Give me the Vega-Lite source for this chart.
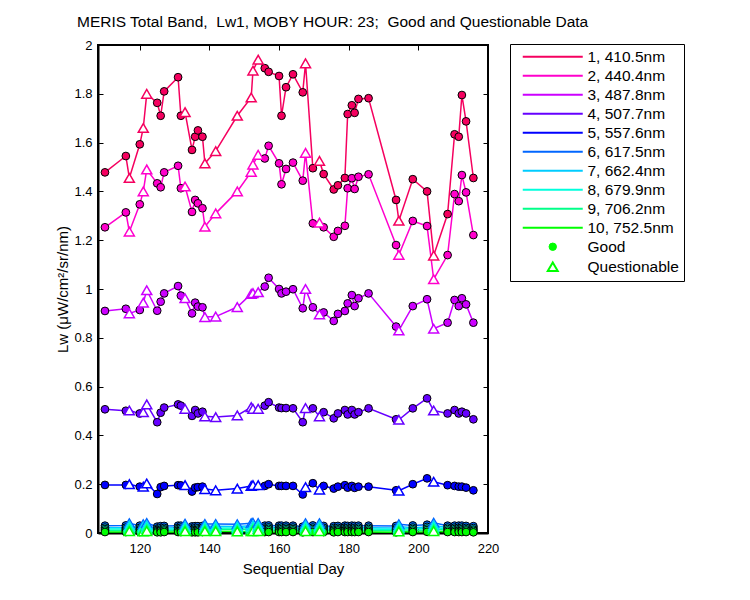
{
  "$schema": "https://vega.github.io/schema/vega-lite/v6.json",
  "width": 390,
  "height": 488,
  "autosize": {"type": "none"},
  "padding": {"left": 98, "top": 45, "right": 262, "bottom": 67},
  "background": "white",
  "title": {"text": "MERIS Total Band,\u00a0 Lw1, MOBY HOUR: 23;\u00a0 Good and Questionable Data", "anchor": "start", "frame": "group", "dx": -21, "offset": 9, "font": "Liberation Sans", "fontSize": 15.5, "fontWeight": "normal", "color": "black"},
  "config": {
    "view": {"stroke": "black", "strokeWidth": 2},
    "axis": {"domainColor": "black", "domainWidth": 2, "tickColor": "black", "tickWidth": 1, "tickSize": -5, "grid": false, "labelFlush": false, "labelFont": "Liberation Sans", "labelFontSize": 13, "labelColor": "black", "titleFont": "Liberation Sans", "titleFontSize": 15, "titleFontWeight": "normal", "titleColor": "black"}
  },
  "resolve": {"axis": {"x": "independent", "y": "independent"}},
  "data": {"values": [
    {"d":110,"q":"G","b1":1.478,"b2":1.253,"b3":0.91,"b4":0.507,"b5":0.197,"b6":0.03,"b7":0.022,"b8":0.016,"b9":0.01,"b10":0.004},
    {"d":116,"q":"G","b1":1.545,"b2":1.314,"b3":0.919,"b4":0.501,"b5":0.197,"b6":0.031,"b7":0.022,"b8":0.016,"b9":0.01,"b10":0.004},
    {"d":117,"q":"Q","b1":1.455,"b2":1.235,"b3":0.9,"b4":0.502,"b5":0.2,"b6":0.04,"b7":0.03,"b8":0.023,"b9":0.016,"b10":0.007},
    {"d":120,"q":"G","b1":1.593,"b2":1.347,"b3":0.914,"b4":0.49,"b5":0.19,"b6":0.03,"b7":0.021,"b8":0.015,"b9":0.01,"b10":0.004},
    {"d":121,"q":"Q","b1":1.66,"b2":1.4,"b3":0.944,"b4":0.495,"b5":0.19,"b6":0.036,"b7":0.027,"b8":0.02,"b9":0.014,"b10":0.006},
    {"d":122,"q":"Q","b1":1.8,"b2":1.49,"b3":0.995,"b4":0.527,"b5":0.203,"b6":0.041,"b7":0.031,"b8":0.024,"b9":0.017,"b10":0.008},
    {"d":125,"q":"G","b1":1.763,"b2":1.433,"b3":0.911,"b4":0.454,"b5":0.16,"b6":0.026,"b7":0.018,"b8":0.013,"b9":0.008,"b10":0.003},
    {"d":126,"q":"G","b1":1.71,"b2":1.417,"b3":0.948,"b4":0.493,"b5":0.188,"b6":0.028,"b7":0.02,"b8":0.014,"b9":0.009,"b10":0.003},
    {"d":127,"q":"G","b1":1.81,"b2":1.478,"b3":0.982,"b4":0.514,"b5":0.193,"b6":0.029,"b7":0.021,"b8":0.015,"b9":0.01,"b10":0.004},
    {"d":131,"q":"G","b1":1.868,"b2":1.505,"b3":1.012,"b4":0.527,"b5":0.196,"b6":0.03,"b7":0.022,"b8":0.016,"b9":0.01,"b10":0.004},
    {"d":131.8,"q":"G","b1":1.71,"b2":1.413,"b3":0.973,"b4":0.522,"b5":0.195,"b6":0.03,"b7":0.022,"b8":0.016,"b9":0.01,"b10":0.004},
    {"d":133,"q":"Q","b1":1.725,"b2":1.42,"b3":0.962,"b4":0.509,"b5":0.196,"b6":0.038,"b7":0.028,"b8":0.021,"b9":0.015,"b10":0.007},
    {"d":135,"q":"G","b1":1.57,"b2":1.316,"b3":0.9,"b4":0.48,"b5":0.17,"b6":0.027,"b7":0.019,"b8":0.013,"b9":0.008,"b10":0.003},
    {"d":135.9,"q":"G","b1":1.624,"b2":1.365,"b3":0.944,"b4":0.504,"b5":0.186,"b6":0.028,"b7":0.02,"b8":0.014,"b9":0.009,"b10":0.003},
    {"d":136.7,"q":"G","b1":1.65,"b2":1.351,"b3":0.928,"b4":0.49,"b5":0.188,"b6":0.028,"b7":0.02,"b8":0.014,"b9":0.009,"b10":0.003},
    {"d":138,"q":"G","b1":1.624,"b2":1.331,"b3":0.925,"b4":0.497,"b5":0.19,"b6":0.029,"b7":0.021,"b8":0.015,"b9":0.01,"b10":0.004},
    {"d":138.7,"q":"Q","b1":1.515,"b2":1.255,"b3":0.885,"b4":0.478,"b5":0.18,"b6":0.037,"b7":0.028,"b8":0.021,"b9":0.015,"b10":0.007},
    {"d":141.8,"q":"Q","b1":1.565,"b2":1.31,"b3":0.887,"b4":0.475,"b5":0.175,"b6":0.037,"b7":0.028,"b8":0.021,"b9":0.015,"b10":0.007},
    {"d":148,"q":"Q","b1":1.71,"b2":1.4,"b3":0.926,"b4":0.482,"b5":0.182,"b6":0.036,"b7":0.027,"b8":0.02,"b9":0.014,"b10":0.006},
    {"d":152,"q":"Q","b1":1.785,"b2":1.48,"b3":0.98,"b4":0.516,"b5":0.193,"b6":0.04,"b7":0.03,"b8":0.023,"b9":0.016,"b10":0.007},
    {"d":152.5,"q":"Q","b1":1.895,"b2":1.51,"b3":0.983,"b4":0.509,"b5":0.196,"b6":0.042,"b7":0.031,"b8":0.024,"b9":0.017,"b10":0.008},
    {"d":154,"q":"Q","b1":1.94,"b2":1.55,"b3":0.987,"b4":0.509,"b5":0.196,"b6":0.041,"b7":0.031,"b8":0.024,"b9":0.017,"b10":0.008},
    {"d":155.9,"q":"G","b1":1.905,"b2":1.535,"b3":1.01,"b4":0.522,"b5":0.193,"b6":0.03,"b7":0.022,"b8":0.016,"b9":0.01,"b10":0.004},
    {"d":157,"q":"G","b1":1.89,"b2":1.587,"b3":1.046,"b4":0.536,"b5":0.2,"b6":0.031,"b7":0.023,"b8":0.017,"b9":0.011,"b10":0.004},
    {"d":160,"q":"G","b1":1.873,"b2":1.515,"b3":1.0,"b4":0.514,"b5":0.193,"b6":0.03,"b7":0.022,"b8":0.016,"b9":0.01,"b10":0.004},
    {"d":160.7,"q":"G","b1":1.71,"b2":1.429,"b3":0.982,"b4":0.512,"b5":0.193,"b6":0.03,"b7":0.022,"b8":0.016,"b9":0.01,"b10":0.004},
    {"d":162,"q":"G","b1":1.827,"b2":1.492,"b3":0.989,"b4":0.512,"b5":0.193,"b6":0.03,"b7":0.022,"b8":0.016,"b9":0.01,"b10":0.004},
    {"d":164,"q":"G","b1":1.88,"b2":1.518,"b3":0.999,"b4":0.511,"b5":0.193,"b6":0.03,"b7":0.022,"b8":0.016,"b9":0.01,"b10":0.004},
    {"d":166.8,"q":"G","b1":1.806,"b2":1.444,"b3":0.921,"b4":0.454,"b5":0.158,"b6":0.026,"b7":0.018,"b8":0.013,"b9":0.008,"b10":0.003},
    {"d":167.6,"q":"Q","b1":1.925,"b2":1.558,"b3":1.0,"b4":0.512,"b5":0.188,"b6":0.04,"b7":0.03,"b8":0.023,"b9":0.016,"b10":0.007},
    {"d":169.7,"q":"G","b1":1.495,"b2":1.269,"b3":0.925,"b4":0.511,"b5":0.204,"b6":0.031,"b7":0.022,"b8":0.016,"b9":0.01,"b10":0.004},
    {"d":171.6,"q":"Q","b1":1.525,"b2":1.272,"b3":0.896,"b4":0.478,"b5":0.178,"b6":0.04,"b7":0.03,"b8":0.023,"b9":0.016,"b10":0.007},
    {"d":172.8,"q":"G","b1":1.471,"b2":1.253,"b3":0.904,"b4":0.495,"b5":0.193,"b6":0.029,"b7":0.021,"b8":0.015,"b9":0.01,"b10":0.004},
    {"d":175.7,"q":"G","b1":1.408,"b2":1.214,"b3":0.869,"b4":0.47,"b5":0.182,"b6":0.028,"b7":0.02,"b8":0.014,"b9":0.009,"b10":0.003},
    {"d":176.9,"q":"G","b1":1.425,"b2":1.238,"b3":0.898,"b4":0.49,"b5":0.19,"b6":0.029,"b7":0.021,"b8":0.015,"b9":0.01,"b10":0.004},
    {"d":178.9,"q":"G","b1":1.455,"b2":1.259,"b3":0.91,"b4":0.504,"b5":0.196,"b6":0.03,"b7":0.022,"b8":0.016,"b9":0.01,"b10":0.004},
    {"d":179.7,"q":"G","b1":1.717,"b2":1.413,"b3":0.941,"b4":0.486,"b5":0.186,"b6":0.029,"b7":0.021,"b8":0.015,"b9":0.01,"b10":0.004},
    {"d":180.9,"q":"G","b1":1.753,"b2":1.454,"b3":0.975,"b4":0.504,"b5":0.193,"b6":0.03,"b7":0.022,"b8":0.016,"b9":0.01,"b10":0.004},
    {"d":181.7,"q":"G","b1":1.722,"b2":1.41,"b3":0.93,"b4":0.486,"b5":0.185,"b6":0.029,"b7":0.021,"b8":0.015,"b9":0.01,"b10":0.004},
    {"d":182.8,"q":"G","b1":1.779,"b2":1.46,"b3":0.962,"b4":0.495,"b5":0.19,"b6":0.03,"b7":0.022,"b8":0.016,"b9":0.01,"b10":0.004},
    {"d":185.7,"q":"G","b1":1.782,"b2":1.47,"b3":0.982,"b4":0.511,"b5":0.19,"b6":0.03,"b7":0.022,"b8":0.016,"b9":0.01,"b10":0.004},
    {"d":193.6,"q":"G","b1":1.365,"b2":1.18,"b3":0.846,"b4":0.466,"b5":0.175,"b6":0.029,"b7":0.02,"b8":0.014,"b9":0.009,"b10":0.003},
    {"d":194.4,"q":"Q","b1":1.28,"b2":1.14,"b3":0.83,"b4":0.464,"b5":0.173,"b6":0.036,"b7":0.027,"b8":0.02,"b9":0.014,"b10":0.006},
    {"d":198.4,"q":"G","b1":1.45,"b2":1.279,"b3":0.93,"b4":0.511,"b5":0.2,"b6":0.031,"b7":0.022,"b8":0.016,"b9":0.01,"b10":0.004},
    {"d":202.5,"q":"G","b1":1.4,"b2":1.258,"b3":0.958,"b4":0.552,"b5":0.224,"b6":0.034,"b7":0.025,"b8":0.018,"b9":0.012,"b10":0.005},
    {"d":204.4,"q":"Q","b1":1.137,"b2":1.04,"b3":0.837,"b4":0.502,"b5":0.21,"b6":0.042,"b7":0.032,"b8":0.024,"b9":0.017,"b10":0.008},
    {"d":208.4,"q":"G","b1":1.307,"b2":1.139,"b3":0.862,"b4":0.49,"b5":0.196,"b6":0.03,"b7":0.022,"b8":0.016,"b9":0.01,"b10":0.004},
    {"d":210.4,"q":"G","b1":1.634,"b2":1.389,"b3":0.955,"b4":0.504,"b5":0.193,"b6":0.03,"b7":0.022,"b8":0.016,"b9":0.01,"b10":0.004},
    {"d":211.6,"q":"G","b1":1.624,"b2":1.36,"b3":0.93,"b4":0.49,"b5":0.19,"b6":0.03,"b7":0.022,"b8":0.016,"b9":0.01,"b10":0.004},
    {"d":212.5,"q":"G","b1":1.795,"b2":1.467,"b3":0.962,"b4":0.497,"b5":0.19,"b6":0.03,"b7":0.022,"b8":0.016,"b9":0.01,"b10":0.004},
    {"d":213.7,"q":"G","b1":1.687,"b2":1.396,"b3":0.937,"b4":0.49,"b5":0.186,"b6":0.029,"b7":0.021,"b8":0.015,"b9":0.01,"b10":0.004},
    {"d":215.8,"q":"G","b1":1.455,"b2":1.221,"b3":0.862,"b4":0.466,"b5":0.175,"b6":0.028,"b7":0.02,"b8":0.014,"b9":0.009,"b10":0.003}
  ]},
  "transform": [
    {"fold": ["b1","b2","b3","b4","b5","b6","b7","b8","b9","b10"], "as": ["band","v"]}
  ],
  "encoding": {
    "x": {"field": "d", "type": "quantitative", "scale": {"domain": [108, 220], "nice": false, "zero": false}},
    "y": {"field": "v", "type": "quantitative", "scale": {"domain": [0, 2], "nice": false}},
    "color": {"field": "band", "type": "nominal", "scale": {
      "domain": ["b1","b2","b3","b4","b5","b6","b7","b8","b9","b10","Good","Questionable"],
      "range": ["#f5005f","#ff00cc","#cc00ff","#6600ff","#0000ff","#0066ff","#00ccff","#00ffdd","#00ff88","#00ff00","#00ff00","#00ff00"]}}
  },
  "layer": [
    {
      "mark": {"type": "line", "strokeWidth": 1.5},
      "encoding": {
        "x": {"field": "d", "type": "quantitative", "axis": {"values": [120,140,160,180,200,220], "title": "Sequential Day", "labelPadding": 14, "titlePadding": 6}},
        "y": {"field": "v", "type": "quantitative", "axis": {"values": [0,0.2,0.4,0.6,0.8,1,1.2,1.4,1.6,1.8,2], "format": "~g", "title": "Lw (μW/cm²/sr/nm)", "labelPadding": 11, "titlePadding": 3}},
        "color": {"field": "band", "type": "nominal", "legend": {
          "orient": "none", "legendX": 412, "legendY": -1, "title": null,
          "strokeColor": "black", "fillColor": "white", "padding": 5,
          "labelFont": "Liberation Sans", "labelFontSize": 15.5, "labelColor": "black",
          "symbolType": "stroke", "symbolSize": 256, "symbolStrokeWidth": 2, "symbolOffset": 30, "labelOffset": 27, "rowPadding": 2,
          "labelExpr": "({b1:'1, 410.5nm',b2:'2, 440.4nm',b3:'3, 487.8nm',b4:'4, 507.7nm',b5:'5, 557.6nm',b6:'6, 617.5nm',b7:'7, 662.4nm',b8:'8, 679.9nm',b9:'9, 706.2nm',b10:'10, 752.5nm',Good:'Good',Questionable:'Questionable'})[datum.value]",
          "encode": {"symbols": {"update": {
            "shape": {"signal": "datum.value == 'Good' ? 'circle' : datum.value == 'Questionable' ? 'triangle-up' : 'stroke'"},
            "fill": {"signal": "datum.value == 'Good' ? '#00ff00' : 'transparent'"},
            "fillOpacity": {"signal": "datum.value == 'Good' ? 1 : 0"},
            "stroke": {"signal": "datum.value == 'Good' ? 'black' : scale('color', datum.value)"},
            "size": {"signal": "datum.value == 'Good' ? 55 : datum.value == 'Questionable' ? 100 : 3600"},
            "strokeWidth": {"signal": "datum.value == 'Good' ? 1 : 2"}
          }}}
        }}
      }
    },
    {
      "transform": [{"filter": "datum.q == 'G'"}],
      "mark": {"type": "point", "shape": "circle", "filled": true, "size": 60, "stroke": "black", "strokeWidth": 1, "opacity": 1},
      "encoding": {
        "x": {"field": "d", "type": "quantitative", "axis": null},
        "y": {"field": "v", "type": "quantitative", "axis": null}
      }
    },
    {
      "transform": [{"filter": "datum.q == 'Q'"}],
      "mark": {"type": "point", "shape": "triangle-up", "filled": false, "fill": "white", "fillOpacity": 1, "size": 100, "strokeWidth": 1.5, "opacity": 1},
      "encoding": {
        "x": {"field": "d", "type": "quantitative", "axis": null},
        "y": {"field": "v", "type": "quantitative", "axis": null}
      }
    },
    {
      "mark": {"type": "point", "opacity": 0},
      "encoding": {
        "color": {"value": "white"},
        "x": {"field": "d", "type": "quantitative", "axis": {"orient": "top", "values": [120,140,160,180,200,220], "labels": false, "title": null, "domain": false}},
        "y": {"field": "v", "type": "quantitative", "axis": {"orient": "right", "values": [0,0.2,0.4,0.6,0.8,1,1.2,1.4,1.6,1.8,2], "labels": false, "title": null, "domain": false}}
      }
    }
  ]
}
